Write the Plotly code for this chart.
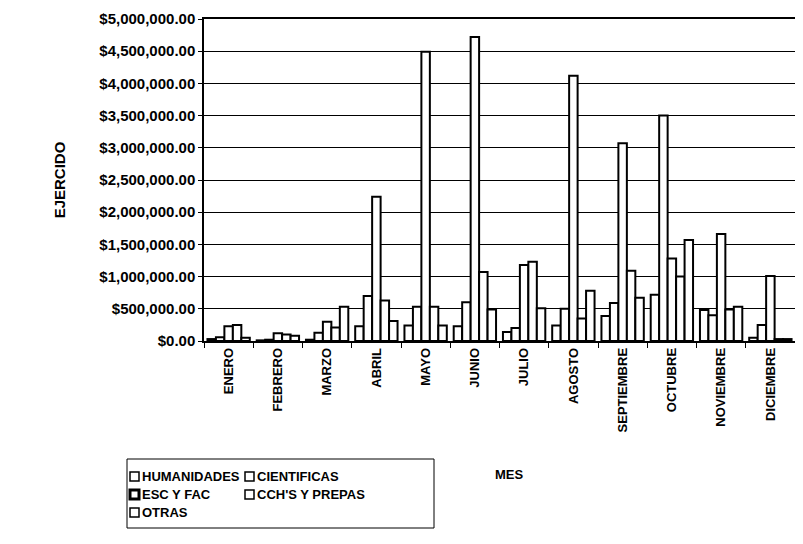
import plotly.graph_objects as go

meses = ["ENERO", "FEBRERO", "MARZO", "ABRIL", "MAYO", "JUNIO", "JULIO",
         "AGOSTO", "SEPTIEMBRE", "OCTUBRE", "NOVIEMBRE", "DICIEMBRE"]

nombres = ["HUMANIDADES", "CIENTIFICAS", "ESC Y FAC", "CCH'S Y PREPAS", "OTRAS"]

humanidades = [30000, 10000, 20000, 230000, 240000, 230000, 140000, 240000, 390000, 720000, 480000, 50000]
cientificas = [60000, 20000, 130000, 700000, 530000, 600000, 200000, 500000, 590000, 3500000, 400000, 250000]
esc_fac = [230000, 120000, 300000, 2240000, 4490000, 4720000, 1180000, 4120000, 3070000, 1280000, 1660000, 1010000]
cch_prepas = [250000, 100000, 210000, 630000, 530000, 1070000, 1230000, 350000, 1090000, 1000000, 490000, 30000]
otras = [50000, 80000, 530000, 310000, 240000, 490000, 510000, 780000, 670000, 1570000, 530000, 30000]

valores = [humanidades, cientificas, esc_fac, cch_prepas, otras]

# the page body adds an 8px margin, so the figure is drawn 8px smaller
# and every screen position below is given in page pixels minus 8
OFF = 8
W, H = 803 - OFF, 544 - OFF
L, R, T, B = 204 - OFF, 8, 19 - OFF, 544 - 341

FONT = "Liberation Sans, Arial, sans-serif"

fig = go.Figure()
for nombre, serie in zip(nombres, valores):
    fig.add_trace(go.Bar(
        x=meses, y=serie, name=nombre,
        marker=dict(color="white", line=dict(color="black", width=2)),
        showlegend=False,
    ))


def px_x(p):
    return (p - OFF - L) / (W - L - R)


def px_y(p):
    return 1 - (p - OFF - T) / (H - T - B)


# hand-drawn legend box, two columns like the original
legend_pos = [(130, 476), (245, 476), (130, 494), (245, 494), (130, 512)]
for i, (nombre, (lx, ly)) in enumerate(zip(nombres, legend_pos)):
    fig.add_shape(type="rect", xref="paper", yref="paper",
                  x0=px_x(lx), x1=px_x(lx + 9), y0=px_y(ly + 5), y1=px_y(ly - 4),
                  line=dict(color="black", width=3 if i == 2 else 1.5), fillcolor="white")
    fig.add_annotation(xref="paper", yref="paper", x=px_x(lx + 10), y=px_y(ly),
                       text=nombre, showarrow=False, xanchor="left", yanchor="middle",
                       font=dict(family=FONT, size=13, color="black", weight="bold"))
fig.add_shape(type="rect", xref="paper", yref="paper",
              x0=px_x(127), x1=px_x(434), y0=px_y(528), y1=px_y(459),
              line=dict(color="black", width=1))

fig.add_annotation(xref="paper", yref="paper", x=px_x(509), y=px_y(474),
                   text="MES", showarrow=False, xanchor="center", yanchor="middle",
                   font=dict(family=FONT, size=13, color="black", weight="bold"))

fig.update_layout(
    width=W, height=H,
    margin=dict(l=L, r=R, t=T, b=B),
    paper_bgcolor="white", plot_bgcolor="white",
    font=dict(family=FONT, color="black", weight="bold"),
    barmode="group", bargap=0.14, bargroupgap=0,
)
fig.update_yaxes(
    automargin=False, ticklabeloverflow="allow",
    range=[0, 5000000], dtick=500000, tickformat="$,.2f",
    showgrid=True, gridcolor="black", gridwidth=1,
    showline=True, linecolor="black", linewidth=1.5, mirror=True,
    ticks="outside", ticklen=4, tickcolor="black",
    tickfont=dict(family=FONT, size=15, color="black", weight="bold"),
    title=dict(text="EJERCIDO", standoff=30,
               font=dict(family=FONT, size=15, color="black", weight="bold")),
    zeroline=False,
)
fig.update_xaxes(
    automargin=False,
    showline=True, linecolor="black", linewidth=1.5, mirror=True,
    ticks="outside", ticklen=5, tickcolor="black", tickson="boundaries",
    tickangle=-90, tickfont=dict(family=FONT, size=13, color="black", weight="bold"),
)

fig.write_html("out.html")
